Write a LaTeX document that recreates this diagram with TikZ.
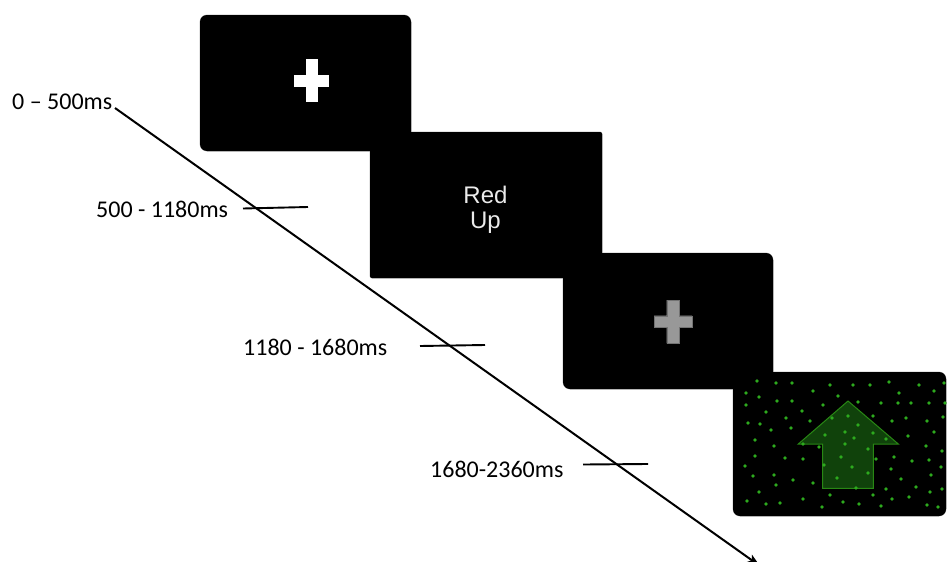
\documentclass[tikz,border=0pt]{standalone}
\usepackage{fontspec}
\setmainfont{Carlito}
\newfontfamily\screenfont{Liberation Sans}
\usetikzlibrary{arrows.meta}

\definecolor{dotgreen}{RGB}{45,170,30}
\definecolor{arrowfill}{RGB}{16,66,11}
\definecolor{arrowedge}{RGB}{40,135,20}
\definecolor{crossgray}{RGB}{152,152,152}
\definecolor{wordgray}{RGB}{235,235,235}

\begin{document}
\begin{tikzpicture}[x=1pt,y=-1pt,
  screenedge/.style={fill=black, draw=black!30, line width=0.7pt},
  screenfill/.style={fill=black},
  timelabel/.style={font=\fontsize{24}{28}\selectfont, anchor=base west,
    inner sep=0pt, text=black},
  screenword/.style={font=\screenfont\fontsize{24}{28}\selectfont, anchor=base,
    inner sep=0pt, text=wordgray},
  tickline/.style={line width=1.9pt},
  timeline/.style={line width=2pt, -{Stealth[length=13pt,width=9pt,inset=3pt]}},
  dot/.style={fill=dotgreen}
]
\useasboundingbox (0,0) rectangle (948,562);

% four stimulus screens, outlines first, then the fills on top
\draw[screenedge, rounded corners=7pt] (200,15) rectangle (411,151);
\draw[screenedge, rounded corners=2pt] (370,132) rectangle (602,278);
\draw[screenedge, rounded corners=7pt] (563,253) rectangle (773,389);
\draw[screenedge, rounded corners=7pt] (733,372) rectangle (946,516);
\fill[screenfill, rounded corners=7pt] (200,15) rectangle (411,151);
\fill[screenfill, rounded corners=2pt] (370,132) rectangle (602,278);
\fill[screenfill, rounded corners=7pt] (563,253) rectangle (773,389);

% fixation cross
\fill[white] (294.3,75) rectangle (329.3,87.3);
\fill[white] (305.7,59) rectangle (317.7,102.3);

% cue words
\node[screenword] (red) at (485.5,203) {Red};
\node[screenword] (up) at (485.5,228) {Up};

% grey fixation cross
\fill[crossgray, draw=black!55, line width=0.4pt]
  (654,315.7) -- (666.7,315.7) -- (666.7,300) -- (679.3,300) -- (679.3,315.7)
  -- (692,315.7) -- (692,327.3) -- (679.3,327.3) -- (679.3,343.3) -- (666.7,343.3)
  -- (666.7,327.3) -- (654,327.3) -- cycle;

% target screen: arrow on a field of green dots
\fill[screenfill, rounded corners=7pt] (733,372) rectangle (946,516);
\fill[arrowfill, draw=arrowedge, line width=1pt]
  (848,401) -- (898.3,444) -- (873.3,444) -- (873.3,488.3) -- (822.7,488.3)
  -- (822.7,444) -- (798.3,444) -- cycle;
\foreach \p in {
  (757,381),(776,383),(792,383),(830,385),(853,385),(870,385),(889,382),(919,385),(944,383),
  (746,393),(813,391),(838,396),(899,393),(934,391),
  (759,397),(777,401),(792,401),(858,402),(881,403),(898,403),(911,403),(929,403),(945,403),
  (746,405),(823,405),
  (766,412),(802,411),(832,418),(848,416),(873,416),(906,418),(943,417),
  (748,423),(760,424),(786,418),(810,421),(858,425),(892,421),(927,421),
  (771,430),(791,428),(845,432),(873,433),(934,432),
  (825,435),(908,436),(854,438),(886,439),
  (755,440),(803,444),(819,447),(845,444),
  (774,446),(868,449),(926,446),(942,451),
  (755,456),(785,458),(803,459),(841,457),(876,459),(894,457),(912,461),(929,460),
  (745,466),(824,465),(852,467),(891,469),(941,467),
  (753,476),(774,475),(793,480),(837,478),(868,473),(901,479),(931,475),
  (776,485),(813,483),(856,488),(916,487),(942,489),(886,489),
  (759,492),(830,495),(873,495),(930,492),
  (747,501),(803,499),(843,502),(892,499),(909,497),
  (766,504),(780,503),(822,507),(859,504),(881,506),(927,505),(938,507)}
  \fill[dot] \p circle (1.9);

% time labels
\node[timelabel] (t0) at (12,109) {0 – 500ms};
\node[timelabel] (t1) at (96,217) {500 - 1180ms};
\node[timelabel] (t2) at (243,355) {1180 - 1680ms};
\node[timelabel] (t3) at (430,477) {1680-2360ms};

% tick marks on the time axis
\coordinate (k1a) at (243,208.5); \coordinate (k1b) at (308,207);
\coordinate (k2a) at (420,346);   \coordinate (k2b) at (485,345);
\coordinate (k3a) at (583,464.5); \coordinate (k3b) at (648,464);
\draw[tickline] (k1a) -- (k1b);
\draw[tickline] (k2a) -- (k2b);
\draw[tickline] (k3a) -- (k3b);

% time axis
\coordinate (axstart) at (115,108);
\coordinate (axend) at (760,566);
\draw[timeline] (axstart) -- (axend);
\end{tikzpicture}
\end{document}
